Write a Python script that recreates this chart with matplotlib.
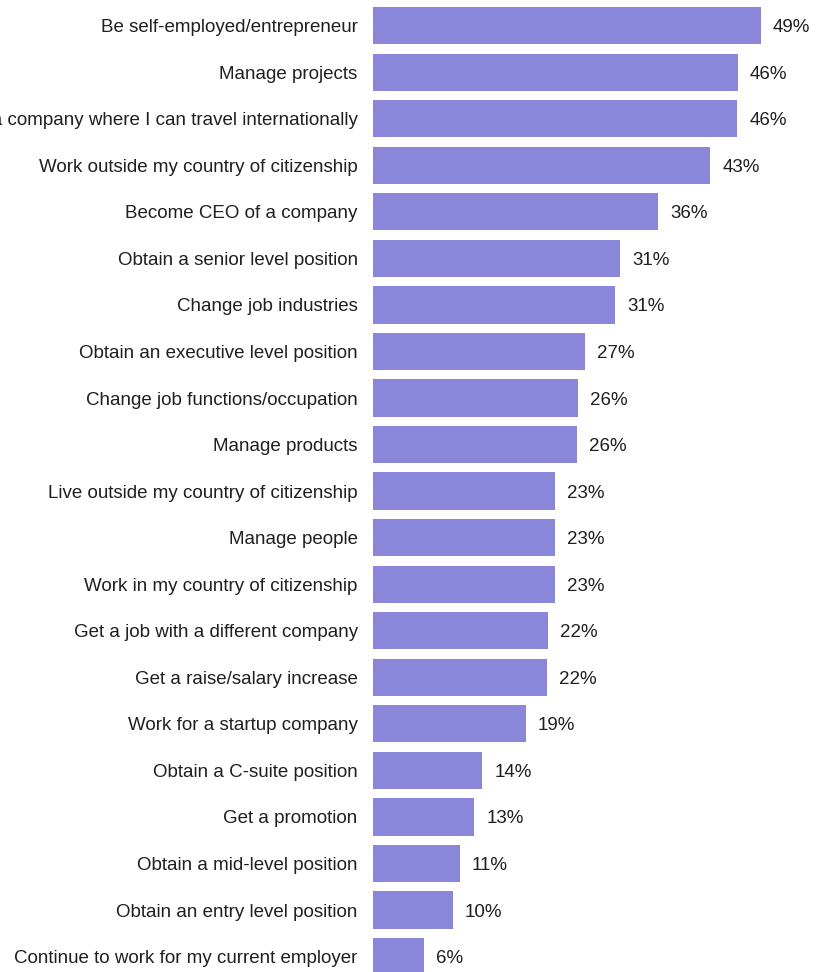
import matplotlib
matplotlib.use("Agg")
import matplotlib.pyplot as plt

categories = [
    "Be self-employed/entrepreneur",
    "Manage projects",
    "Work for a company where I can travel internationally",
    "Work outside my country of citizenship",
    "Become CEO of a company",
    "Obtain a senior level position",
    "Change job industries",
    "Obtain an executive level position",
    "Change job functions/occupation",
    "Manage products",
    "Live outside my country of citizenship",
    "Manage people",
    "Work in my country of citizenship",
    "Get a job with a different company",
    "Get a raise/salary increase",
    "Work for a startup company",
    "Obtain a C-suite position",
    "Get a promotion",
    "Obtain a mid-level position",
    "Obtain an entry level position",
    "Continue to work for my current employer",
]
values = [49.0, 46.1, 46.0, 42.6, 36.0, 31.2, 30.6, 26.8, 25.9, 25.8, 23.0, 23.0,
          23.0, 22.1, 22.0, 19.3, 13.8, 12.8, 11.0, 10.1, 6.4]
value_labels = ["49%", "46%", "46%", "43%", "36%", "31%", "31%", "27%", "26%", "26%",
                "23%", "23%", "23%", "22%", "22%", "19%", "14%", "13%", "11%", "10%", "6%"]

W, H = 817, 972
fig = plt.figure(figsize=(W / 100, H / 100), dpi=100)
step = 46.55
ax_h = 21 * step
top_px = 25.6 - step / 2
ax = fig.add_axes([373 / W, (H - top_px - ax_h) / H, 443.5 / W, ax_h / H])

color = "#8A86D9"
text_color = "#1f1f1f"
font = "Liberation Sans"
fs = 13.5

y = list(range(len(categories)))
ax.barh(y, values, height=0.8, color=color, edgecolor="none")
ax.set_ylim(len(categories) - 0.5, -0.5)
ax.set_xlim(0, 56)
for s in ax.spines.values():
    s.set_visible(False)
ax.set_xticks([])
ax.set_yticks(y)
ax.set_yticklabels(categories, fontsize=fs, family=font, color=text_color)
ax.tick_params(axis="y", length=0, pad=11)
for yi, v, lab in zip(y, values, value_labels):
    ax.annotate(lab, (v, yi), xytext=(12, -2), textcoords="offset pixels",
                va="center", ha="left", fontsize=fs, family=font, color=text_color)

fig.savefig("out.png", dpi=100)
